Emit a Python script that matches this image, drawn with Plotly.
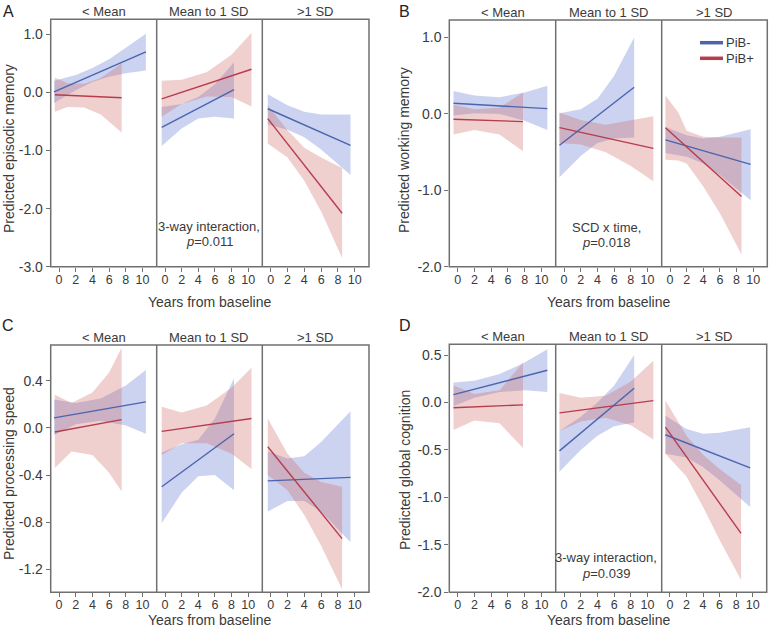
import plotly.graph_objects as go

W, H = 771, 630

facet_labels = ["< Mean", "Mean to 1 SD", ">1 SD"]
series_names = ["PiB-", "PiB+"]
x_tick_vals = [0, 2, 4, 6, 8, 10]
x_tick_text = ["0", "2", "4", "6", "8", "10"]

# ---------------- Panel A: episodic memory ----------------
A_y_ticks = [1.0, 0.0, -1.0, -2.0, -3.0]
A_y_text = ["1.0", "0.0", "-1.0", "-2.0", "-3.0"]
A1n_x = [-0.6, 2, 4, 6, 8, 10.4]
A1n_hi = [0.20, 0.30, 0.42, 0.57, 0.77, 1.01]
A1n_lo = [-0.18, 0.04, 0.18, 0.27, 0.33, 0.38]
A1n_fit = [0.01, 0.70]
A1p_x = [-0.5, 1, 3, 5, 7.5]
A1p_hi = [0.26, 0.16, 0.15, 0.25, 0.50]
A1p_lo = [-0.33, -0.25, -0.26, -0.38, -0.69]
A1p_fit = [-0.04, -0.09]
A2n_x = [-0.4, 2, 4, 6, 8.3]
A2n_hi = [-0.25, -0.20, -0.08, 0.14, 0.52]
A2n_lo = [-0.92, -0.62, -0.45, -0.42, -0.45]
A2n_fit = [-0.60, 0.05]
A2p_x = [-0.4, 2, 5, 8, 10.4]
A2p_hi = [0.20, 0.22, 0.35, 0.65, 1.03]
A2p_lo = [-0.42, -0.20, -0.07, -0.08, -0.24]
A2p_fit = [-0.11, 0.40]
A3n_x = [-0.35, 2, 4, 6, 9.5]
A3n_hi = [-0.03, -0.22, -0.33, -0.38, -0.38]
A3n_lo = [-0.55, -0.64, -0.77, -0.98, -1.42]
A3n_fit = [-0.28, -0.91]
A3p_x = [-0.35, 2, 4, 6, 8.5]
A3p_hi = [-0.22, -0.65, -0.95, -1.12, -1.30]
A3p_lo = [-0.88, -1.12, -1.52, -2.05, -2.85]
A3p_fit = [-0.45, -2.08]

# ---------------- Panel B: working memory ----------------
B_y_ticks = [1.0, 0.0, -1.0, -2.0]
B_y_text = ["1.0", "0.0", "-1.0", "-2.0"]
B1n_x = [-0.5, 2, 5, 8, 10.7]
B1n_hi = [0.30, 0.24, 0.22, 0.28, 0.37]
B1n_lo = [-0.02, 0.01, 0.0, -0.09, -0.21]
B1n_fit = [0.14, 0.07]
B1p_x = [-0.5, 2, 5, 7.8]
B1p_hi = [0.12, 0.06, 0.08, 0.28]
B1p_lo = [-0.27, -0.21, -0.27, -0.49]
B1p_fit = [-0.07, -0.10]
B2n_x = [-0.55, 2, 4, 6, 8.4]
B2n_hi = [0.01, 0.06, 0.20, 0.50, 1.00]
B2n_lo = [-0.83, -0.55, -0.38, -0.32, -0.31]
B2n_fit = [-0.41, 0.35]
B2p_x = [-0.55, 2, 5, 8, 10.7]
B2p_hi = [0.02, -0.08, -0.14, -0.08, -0.03]
B2p_lo = [-0.38, -0.40, -0.50, -0.68, -0.88]
B2p_fit = [-0.18, -0.45]
B3n_x = [-0.55, 2, 4, 6, 9.7]
B3n_hi = [-0.17, -0.28, -0.32, -0.30, -0.20]
B3n_lo = [-0.51, -0.56, -0.65, -0.80, -1.13]
B3n_fit = [-0.34, -0.66]
B3p_x = [-0.55, 1, 2, 4, 6, 8.6]
B3p_hi = [0.24, 0.02, -0.22, -0.30, -0.31, -0.31]
B3p_lo = [-0.60, -0.61, -0.65, -0.95, -1.30, -1.84]
B3p_fit = [-0.18, -1.08]

# ---------------- Panel C: processing speed ----------------
C_y_ticks = [0.4, 0.0, -0.4, -0.8, -1.2]
C_y_text = ["0.4", "0.0", "-0.4", "-0.8", "-1.2"]
C1n_x = [-0.6, 2, 5, 8, 10.4]
C1n_hi = [0.24, 0.21, 0.25, 0.36, 0.49]
C1n_lo = [-0.06, 0.03, 0.06, 0.02, -0.05]
C1n_fit = [0.085, 0.22]
C1p_x = [-0.5, 1.5, 4, 6, 7.5]
C1p_hi = [0.28, 0.21, 0.30, 0.47, 0.68]
C1p_lo = [-0.34, -0.20, -0.23, -0.38, -0.54]
C1p_fit = [-0.035, 0.07]
C2n_x = [-0.4, 2, 4, 6, 8.3]
C2n_hi = [-0.21, -0.14, -0.10, 0.08, 0.42]
C2n_lo = [-0.81, -0.55, -0.41, -0.40, -0.53]
C2n_fit = [-0.50, -0.05]
C2p_x = [-0.4, 2, 5, 8, 10.4]
C2p_hi = [0.18, 0.13, 0.19, 0.34, 0.51]
C2p_lo = [-0.23, -0.13, -0.13, -0.22, -0.35]
C2p_fit = [-0.03, 0.08]
C3n_x = [-0.35, 2, 4, 6, 9.5]
C3n_hi = [-0.20, -0.26, -0.24, -0.12, 0.14]
C3n_lo = [-0.71, -0.62, -0.62, -0.71, -0.97]
C3n_fit = [-0.45, -0.42]
C3p_x = [-0.35, 2, 4, 6, 8.5]
C3p_hi = [0.08, -0.22, -0.38, -0.46, -0.50]
C3p_lo = [-0.40, -0.53, -0.74, -1.00, -1.37]
C3p_fit = [-0.16, -0.94]

# ---------------- Panel D: global cognition ----------------
D_y_ticks = [0.5, 0.0, -0.5, -1.0, -1.5, -2.0]
D_y_text = ["0.5", "0.0", "-0.5", "-1.0", "-1.5", "-2.0"]
D1n_x = [-0.5, 2, 5, 8, 10.7]
D1n_hi = [0.21, 0.23, 0.30, 0.42, 0.56]
D1n_lo = [-0.04, 0.05, 0.11, 0.13, 0.11]
D1n_fit = [0.083, 0.34]
D1p_x = [-0.5, 2, 5, 7.8]
D1p_hi = [0.18, 0.09, 0.13, 0.42]
D1p_lo = [-0.29, -0.19, -0.22, -0.48]
D1p_fit = [-0.055, -0.025]
D2n_x = [-0.55, 2, 4, 6, 8.4]
D2n_hi = [-0.30, -0.15, 0.0, 0.18, 0.50]
D2n_lo = [-0.73, -0.50, -0.35, -0.25, -0.21]
D2n_fit = [-0.51, 0.15]
D2p_x = [-0.55, 2, 5, 8, 10.7]
D2p_hi = [0.10, 0.05, 0.07, 0.22, 0.44]
D2p_lo = [-0.30, -0.20, -0.16, -0.24, -0.39]
D2p_fit = [-0.11, 0.02]
D3n_x = [-0.55, 2, 4, 6, 9.7]
D3n_hi = [-0.14, -0.28, -0.33, -0.32, -0.26]
D3n_lo = [-0.54, -0.58, -0.68, -0.82, -1.10]
D3n_fit = [-0.34, -0.69]
D3p_x = [-0.55, 2, 4, 6, 8.6]
D3p_hi = [0.02, -0.35, -0.55, -0.70, -0.87]
D3p_lo = [-0.54, -0.78, -1.10, -1.45, -1.87]
D3p_fit = [-0.26, -1.38]

# ---------------- assemble ----------------
panel_data = {
    "A": [[(A1n_x, A1n_lo, A1n_hi, A1n_fit), (A1p_x, A1p_lo, A1p_hi, A1p_fit)],
          [(A2n_x, A2n_lo, A2n_hi, A2n_fit), (A2p_x, A2p_lo, A2p_hi, A2p_fit)],
          [(A3n_x, A3n_lo, A3n_hi, A3n_fit), (A3p_x, A3p_lo, A3p_hi, A3p_fit)]],
    "B": [[(B1n_x, B1n_lo, B1n_hi, B1n_fit), (B1p_x, B1p_lo, B1p_hi, B1p_fit)],
          [(B2n_x, B2n_lo, B2n_hi, B2n_fit), (B2p_x, B2p_lo, B2p_hi, B2p_fit)],
          [(B3n_x, B3n_lo, B3n_hi, B3n_fit), (B3p_x, B3p_lo, B3p_hi, B3p_fit)]],
    "C": [[(C1n_x, C1n_lo, C1n_hi, C1n_fit), (C1p_x, C1p_lo, C1p_hi, C1p_fit)],
          [(C2n_x, C2n_lo, C2n_hi, C2n_fit), (C2p_x, C2p_lo, C2p_hi, C2p_fit)],
          [(C3n_x, C3n_lo, C3n_hi, C3n_fit), (C3p_x, C3p_lo, C3p_hi, C3p_fit)]],
    "D": [[(D1n_x, D1n_lo, D1n_hi, D1n_fit), (D1p_x, D1p_lo, D1p_hi, D1p_fit)],
          [(D2n_x, D2n_lo, D2n_hi, D2n_fit), (D2p_x, D2p_lo, D2p_hi, D2p_fit)],
          [(D3n_x, D3n_lo, D3n_hi, D3n_fit), (D3p_x, D3p_lo, D3p_hi, D3p_fit)]],
}

panel_y = {
    "A": ("Predicted episodic memory", [-3.0, 1.26], A_y_ticks, A_y_text),
    "B": ("Predicted working memory", [-2.0, 1.23], B_y_ticks, B_y_text),
    "C": ("Predicted processing speed", [-1.395, 0.703], C_y_ticks, C_y_text),
    "D": ("Predicted global cognition", [-2.0, 0.613], D_y_ticks, D_y_text),
}

# layout geometry (pixels)
geom = {
    "A": dict(xs=[50.7, 156.7, 262.3, 369.0], top=19.3, bot=266.7),
    "B": dict(xs=[449.3, 555.7, 661.7, 767.3], top=20.0, bot=266.7),
    "C": dict(xs=[50.7, 156.7, 262.3, 369.0], top=345.0, bot=592.3),
    "D": dict(xs=[449.3, 555.7, 661.7, 766.7], top=344.3, bot=592.3),
}

FONT = "Liberation Sans, Arial, sans-serif"
TXT = "#3a3a3a"
AXC = "#707070"
line_colors = ["#4b64ae", "#b63c4e"]
band_colors = ["rgba(85,110,205,0.30)", "rgba(205,95,95,0.30)"]
x_range = [-1.0, 11.7]


def px(x):
    return x / W


def py(y):
    return 1 - y / H


fig = go.Figure()
layout = dict(
    width=W, height=H, autosize=False, template="none",
    margin=dict(l=0, r=0, t=0, b=0, pad=0),
    paper_bgcolor="white", plot_bgcolor="rgba(0,0,0,0)",
    showlegend=False, font=dict(family=FONT, color=TXT),
    hovermode=False,
)
annotations = []
shapes = []

k = 0
for P in ["A", "B", "C", "D"]:
    g = geom[P]
    ytitle, yrange, yticks, ytext = panel_y[P]
    for f in range(3):
        k += 1
        xa = "xaxis" if k == 1 else f"xaxis{k}"
        ya = "yaxis" if k == 1 else f"yaxis{k}"
        xr = "x" if k == 1 else f"x{k}"
        yr = "y" if k == 1 else f"y{k}"
        layout[xa] = dict(
            domain=[px(g["xs"][f]), px(g["xs"][f + 1])], range=x_range,
            anchor=yr, tickvals=x_tick_vals, ticktext=x_tick_text,
            ticks="outside", ticklen=4, tickwidth=1, tickcolor=AXC,
            ticklabelstandoff=-3,
            showline=False, automargin=False,
            showgrid=False, zeroline=False,
            tickfont=dict(size=12.5, color=TXT, family=FONT),
        )
        first = f == 0
        layout[ya] = dict(
            domain=[py(g["bot"]), py(g["top"])], range=yrange, anchor=xr,
            tickvals=yticks if first else [], ticktext=ytext if first else [],
            ticks="outside" if first else "", ticklen=4, tickwidth=1, tickcolor=AXC,
            showticklabels=first, automargin=False,
            showline=False, showgrid=False, zeroline=False,
            tickfont=dict(size=14, color=TXT, family=FONT),
        )
        for s, (xs, lo, hi, fit) in enumerate(panel_data[P][f]):
            fig.add_trace(go.Scatter(
                x=list(xs) + list(xs)[::-1], y=list(hi) + list(lo)[::-1],
                xaxis=xr, yaxis=yr, mode="lines", fill="toself",
                fillcolor=band_colors[s], line=dict(width=0),
                hoverinfo="skip", name=series_names[s],
            ))
        for s, (xs, lo, hi, fit) in enumerate(panel_data[P][f]):
            fig.add_trace(go.Scatter(
                x=[xs[0], xs[-1]], y=fit, xaxis=xr, yaxis=yr, mode="lines",
                line=dict(color=line_colors[s], width=1.4), name=series_names[s],
            ))
        # facet title
        annotations.append(dict(
            text=facet_labels[f], xref="paper", yref="paper",
            x=px((g["xs"][f] + g["xs"][f + 1]) / 2), y=py(g["top"] - 8.0),
            xanchor="center", yanchor="middle", showarrow=False,
            font=dict(size=13, color=TXT, family=FONT),
        ))
    # panel frame and facet dividers
    shapes.append(dict(type="rect", xref="paper", yref="paper",
                       x0=px(g["xs"][0]), x1=px(g["xs"][3]), y0=py(g["bot"]), y1=py(g["top"]),
                       line=dict(color=AXC, width=1.5), fillcolor="rgba(0,0,0,0)", layer="above"))
    for xd in g["xs"][1:3]:
        shapes.append(dict(type="line", xref="paper", yref="paper",
                           x0=px(xd), x1=px(xd), y0=py(g["bot"]), y1=py(g["top"]),
                           line=dict(color=AXC, width=1.5), layer="above"))

# panel letters
letters = {"A": (8.0, 11.0), "B": (404.0, 11.0), "C": (8.0, 325.5), "D": (404.5, 325.5)}
for L, (lx, ly) in letters.items():
    annotations.append(dict(text=L, xref="paper", yref="paper", x=px(lx), y=py(ly),
                            xanchor="center", yanchor="middle", showarrow=False,
                            font=dict(size=16, color="#222", family=FONT)))

# y axis titles
ytitle_pos = {"A": (9.0, 149.0), "B": (404.0, 150.0), "C": (9.0, 474.0), "D": (405.0, 470.0)}
for P, (tx, ty) in ytitle_pos.items():
    annotations.append(dict(text=panel_y[P][0], xref="paper", yref="paper", x=px(tx), y=py(ty),
                            xanchor="center", yanchor="middle", showarrow=False, textangle=-90,
                            font=dict(size=14, color=TXT, family=FONT)))

# x axis titles
xtitle_pos = {"A": (209.5, 301.5), "B": (608.7, 301.5), "C": (209.5, 620.0), "D": (608.7, 620.0)}
for P, (tx, ty) in xtitle_pos.items():
    annotations.append(dict(text="Years from baseline", xref="paper", yref="paper", x=px(tx), y=py(ty),
                            xanchor="center", yanchor="middle", showarrow=False,
                            font=dict(size=14, color=TXT, family=FONT)))

# statistics notes
notes = [
    ("3-way interaction,", 209.5, 226.7), ("<i>p</i>=0.011", 209.5, 241.5),
    ("SCD x time,", 606.0, 227.7), ("<i>p</i>=0.018", 606.0, 243.0),
    ("3-way interaction,", 606.0, 557.7), ("<i>p</i>=0.039", 606.0, 573.7),
]
for t, tx, ty in notes:
    annotations.append(dict(text=t, xref="paper", yref="paper", x=px(tx), y=py(ty),
                            xanchor="center", yanchor="middle", showarrow=False,
                            font=dict(size=13, color=TXT, family=FONT)))

# legend (panel B, right facet)
leg_items = [(series_names[0], line_colors[0], 42.7), (series_names[1], line_colors[1], 58.3)]
for name, col, ly in leg_items:
    shapes.append(dict(type="line", xref="paper", yref="paper",
                       x0=px(700), x1=px(723), y0=py(ly), y1=py(ly),
                       line=dict(color=col, width=3.5)))
    annotations.append(dict(text=name, xref="paper", yref="paper", x=px(724), y=py(ly),
                            xanchor="left", yanchor="middle", showarrow=False,
                            font=dict(size=13, color=TXT, family=FONT)))

layout["annotations"] = annotations
layout["shapes"] = shapes
fig.update_layout(**layout)

# place the figure flush with the window's top-left corner
page_css = ("document.body.style.margin='0';document.body.style.padding='0';"
            "document.documentElement.style.overflow='hidden';")
fig.write_html("out.html", post_script=page_css,
               config={"displayModeBar": False, "staticPlot": True})
